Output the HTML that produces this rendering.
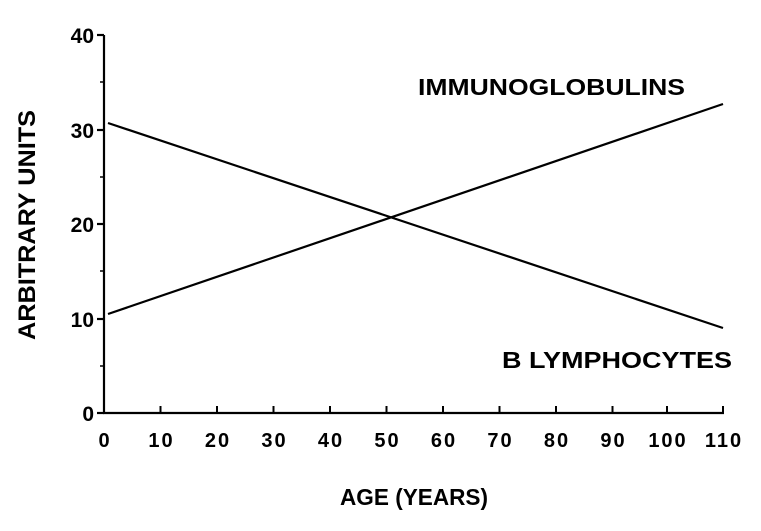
<!DOCTYPE html>
<html><head><style>body{margin:0;background:#fff}</style></head><body>
<svg width="761" height="526" xmlns="http://www.w3.org/2000/svg" font-family="Liberation Sans, Arial, sans-serif" font-weight="bold" fill="#000">
<g stroke="#000" stroke-width="2.2" fill="none">
<line x1="104" y1="35" x2="104" y2="414"/>
<line x1="103" y1="413" x2="724" y2="413"/>
<line x1="97" y1="35" x2="104" y2="35"/>
<line x1="97" y1="130" x2="104" y2="130"/>
<line x1="97" y1="224" x2="104" y2="224"/>
<line x1="97" y1="319" x2="104" y2="319"/>
<line x1="97" y1="413" x2="104" y2="413"/>
<g stroke-width="1.5">
<line x1="100" y1="82" x2="104" y2="82"/><line x1="100" y1="177" x2="104" y2="177"/>
<line x1="100" y1="271" x2="104" y2="271"/><line x1="100" y1="366" x2="104" y2="366"/>
</g>
<line x1="108" y1="314" x2="723" y2="104"/>
<line x1="108" y1="123" x2="723" y2="328"/>
</g>
<g stroke="#000" stroke-width="2">
<line x1="104" y1="406" x2="104" y2="413"/><line x1="160.5" y1="406" x2="160.5" y2="413"/>
<line x1="217" y1="406" x2="217" y2="413"/><line x1="273.5" y1="406" x2="273.5" y2="413"/>
<line x1="330" y1="406" x2="330" y2="413"/><line x1="386.5" y1="406" x2="386.5" y2="413"/>
<line x1="443" y1="406" x2="443" y2="413"/><line x1="499.5" y1="406" x2="499.5" y2="413"/>
<line x1="556" y1="406" x2="556" y2="413"/><line x1="612.5" y1="406" x2="612.5" y2="413"/>
<line x1="667" y1="406" x2="667" y2="413"/><line x1="723" y1="406" x2="723" y2="413"/>
</g>
<g font-size="21" text-anchor="end">
<text x="94" y="43">40</text><text x="94" y="138">30</text><text x="94" y="232">20</text>
<text x="94" y="327">10</text><text x="94" y="421">0</text>
</g>
<g font-size="20" text-anchor="middle" letter-spacing="2">
<text x="105" y="447">0</text><text x="161.5" y="447">10</text><text x="218" y="447">20</text>
<text x="274.5" y="447">30</text><text x="331" y="447">40</text><text x="387.5" y="447">50</text>
<text x="444" y="447">60</text><text x="500.5" y="447">70</text><text x="557" y="447">80</text>
<text x="613.5" y="447">90</text><text x="668" y="447">100</text><text x="724" y="447">110</text>
</g>
<text x="418" y="95" font-size="23" textLength="267" lengthAdjust="spacingAndGlyphs">IMMUNOGLOBULINS</text>
<text x="502" y="368" font-size="23" textLength="230" lengthAdjust="spacingAndGlyphs">B LYMPHOCYTES</text>
<text x="340" y="505" font-size="23" textLength="148" lengthAdjust="spacingAndGlyphs">AGE (YEARS)</text>
<text transform="translate(35,225) rotate(-90)" font-size="24" text-anchor="middle" textLength="230" lengthAdjust="spacingAndGlyphs">ARBITRARY UNITS</text>
</svg>
</body></html>
